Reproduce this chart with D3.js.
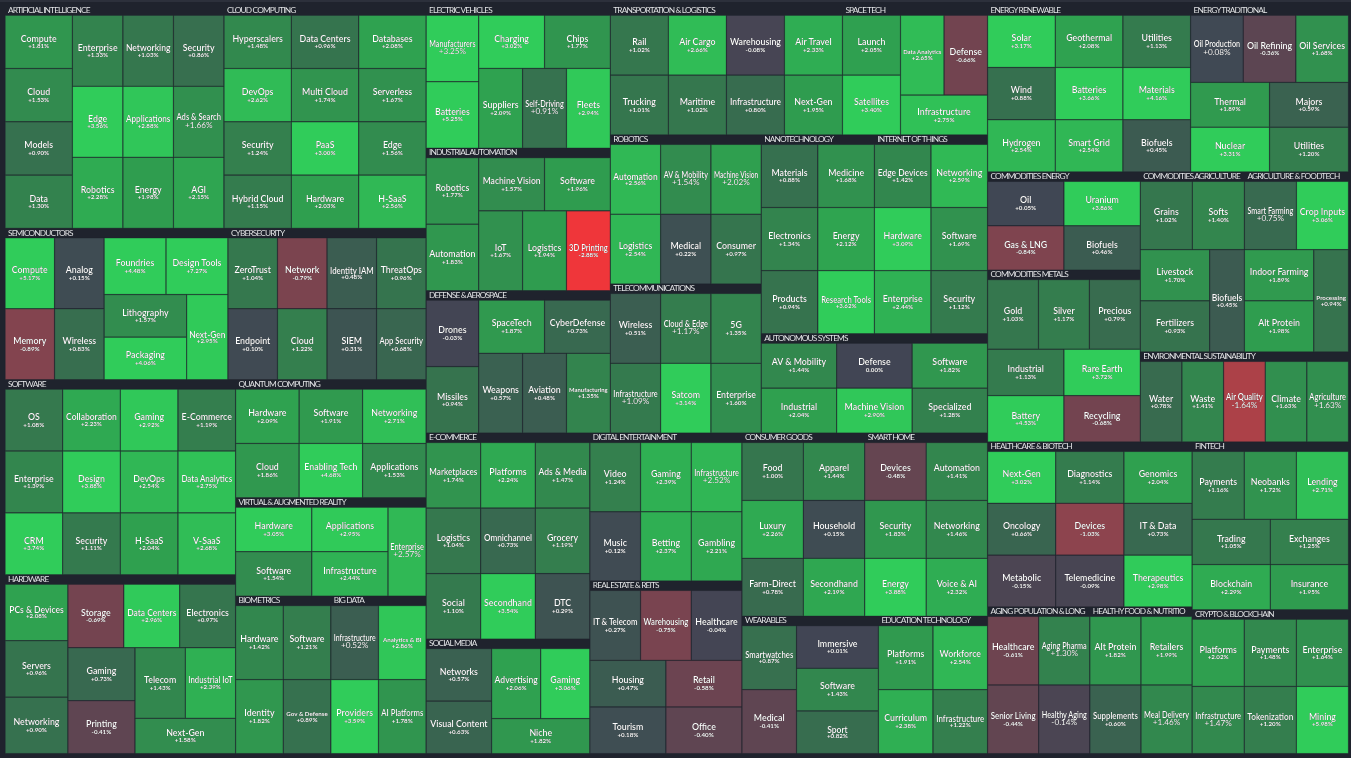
<!DOCTYPE html>
<html lang="en">
<head>
<meta charset="utf-8">
<title>Thematic market map</title>
<script src="https://cdn.jsdelivr.net/npm/d3@7"></script>
<style>
  html, body { margin: 0; padding: 0; background: #1f232d; overflow: hidden; }
  svg { display: block; filter: blur(0.45px); }
  text { font-family: Lato, "Open Sans", sans-serif; fill: #fff; }
  .labels { filter: drop-shadow(0.8px 0.8px 0.7px rgba(0,0,0,.75)); }
  .title { font-size: 8.3px; letter-spacing: -0.85px; fill: #e6e8ec; }
</style>
</head>
<body>
<div id="chart"></div>
<script>
// ---------- data: one pair of arrays per theme ----------
const aiNames = ["Compute","Cloud","Models","Data","Enterprise","Networking","Security","Edge","Applications","Ads & Search","Robotics","Energy","AGI"];
const aiChanges = [1.81,1.53,0.90,1.30,1.33,1.03,0.86,3.56,2.88,1.66,2.28,1.98,2.15];
const cloudNames = ["Hyperscalers","Data Centers","Databases","DevOps","Multi Cloud","Serverless","Security","PaaS","Edge","Hybrid Cloud","Hardware","H-SaaS"];
const cloudChanges = [1.48,0.96,2.08,2.62,1.74,1.67,1.24,3.00,1.56,1.15,2.03,2.56];
const semiNames = ["Compute","Analog","Memory","Wireless","Foundries","Design Tools","Lithography","Packaging","Next-Gen"];
const semiChanges = [5.17,0.15,-0.89,0.83,4.48,7.27,1.57,4.06,2.95];
const cyberNames = ["ZeroTrust","Network","Identity IAM","ThreatOps","Endpoint","Cloud","SIEM","App Security"];
const cyberChanges = [1.04,-0.79,0.48,0.96,0.10,1.22,0.31,0.68];
const softwareNames = ["OS","Collaboration","Gaming","E-Commerce","Enterprise","Design","DevOps","Data Analytics","CRM","Security","H-SaaS","V-SaaS"];
const softwareChanges = [1.08,2.23,2.92,1.19,1.39,3.88,2.54,2.75,3.74,1.11,2.04,2.68];
const hardwareNames = ["PCs & Devices","Servers","Networking","Storage","Data Centers","Electronics","Gaming","Printing","Telecom","Industrial IoT","Next-Gen"];
const hardwareChanges = [2.08,0.96,0.90,-0.69,2.96,0.97,0.73,-0.41,1.43,2.39,1.58];
const quantumNames = ["Hardware","Software","Networking","Cloud","Enabling Tech","Applications"];
const quantumChanges = [2.09,1.91,2.71,1.86,4.68,1.53];
const vrNames = ["Hardware","Applications","Software","Infrastructure","Enterprise"];
const vrChanges = [3.05,2.95,1.54,2.44,2.57];
const bioNames = ["Hardware","Software","Identity","Gov & Defense"];
const bioChanges = [1.42,1.21,1.82,0.89];
const bigDataNames = ["Infrastructure","Analytics & BI","Providers","AI Platforms"];
const bigDataChanges = [0.52,2.86,3.59,1.78];
const evNames = ["Manufacturers","Batteries","Charging","Chips","Suppliers","Self-Driving","Fleets"];
const evChanges = [3.25,5.25,3.02,1.77,2.09,0.91,2.94];
const indNames = ["Robotics","Automation","Machine Vision","Software","IoT","Logistics","3D Printing"];
const indChanges = [1.77,1.83,1.57,1.96,1.67,1.94,-2.88];
const defNames = ["Drones","Missiles","SpaceTech","CyberDefense","Weapons","Aviation","Manufacturing"];
const defChanges = [-0.03,0.94,1.87,0.73,0.57,0.48,1.35];
const transNames = ["Rail","Air Cargo","Warehousing","Air Travel","Trucking","Maritime","Infrastructure","Next-Gen"];
const transChanges = [1.02,2.66,-0.08,2.33,1.01,1.02,0.80,1.95];
const spaceNames = ["Launch","Satellites","Data Analytics","Defense","Infrastructure"];
const spaceChanges = [2.05,3.40,2.65,-0.66,2.75];
const robotNames = ["Automation","AV & Mobility","Machine Vision","Logistics","Medical","Consumer"];
const robotChanges = [2.56,1.54,2.02,2.54,0.22,0.97];
const telecomNames = ["Wireless","Cloud & Edge","5G","Infrastructure","Satcom","Enterprise"];
const telecomChanges = [0.51,1.17,1.35,1.09,3.14,1.60];
const nanoNames = ["Materials","Medicine","Electronics","Energy","Products","Research Tools"];
const nanoChanges = [0.88,1.68,1.34,2.12,0.94,3.62];
const iotNames = ["Edge Devices","Networking","Hardware","Software","Enterprise","Security"];
const iotChanges = [1.42,2.59,3.09,1.69,2.44,1.12];
const autoNames = ["AV & Mobility","Defense","Software","Industrial","Machine Vision","Specialized"];
const autoChanges = [1.44,0.00,1.82,2.04,2.90,1.28];
const ecomNames = ["Marketplaces","Platforms","Ads & Media","Logistics","Omnichannel","Grocery","Social","Secondhand","DTC"];
const ecomChanges = [1.74,2.24,1.47,1.04,0.73,1.19,1.10,3.54,0.29];
const socialNames = ["Networks","Visual Content","Advertising","Gaming","Niche"];
const socialChanges = [0.57,0.63,2.06,3.06,1.82];
const digitalNames = ["Video","Gaming","Infrastructure","Music","Betting","Gambling"];
const digitalChanges = [1.24,2.39,2.52,0.12,2.37,2.21];
const reitNames = ["IT & Telecom","Warehousing","Healthcare","Housing","Retail","Tourism","Office"];
const reitChanges = [0.27,-0.75,-0.04,0.47,-0.58,0.18,-0.40];
const consumerNames = ["Food","Apparel","Luxury","Household","Farm-Direct","Secondhand"];
const consumerChanges = [1.00,1.44,2.26,0.15,0.78,2.19];
const homeNames = ["Devices","Automation","Security","Networking","Energy","Voice & AI"];
const homeChanges = [-0.48,1.41,1.83,1.46,3.88,2.32];
const wearNames = ["Smartwatches","Medical","Immersive","Software","Sport"];
const wearChanges = [0.87,-0.41,0.01,1.43,0.82];
const eduNames = ["Platforms","Workforce","Curriculum","Infrastructure"];
const eduChanges = [1.91,2.54,2.38,1.22];
const renewNames = ["Solar","Geothermal","Utilities","Wind","Batteries","Materials","Hydrogen","Smart Grid","Biofuels"];
const renewChanges = [3.17,2.08,1.13,0.88,3.66,4.16,2.54,2.54,0.45];
const tradNames = ["Oil Production","Oil Refining","Oil Services","Thermal","Majors","Nuclear","Utilities"];
const tradChanges = [0.08,-0.36,1.68,1.89,0.59,3.31,1.20];
const comEnergyNames = ["Oil","Uranium","Gas & LNG","Biofuels"];
const comEnergyChanges = [0.05,3.86,-0.84,0.46];
const metalNames = ["Gold","Silver","Precious","Industrial","Rare Earth","Battery","Recycling"];
const metalChanges = [1.03,1.17,0.79,1.13,3.72,4.53,-0.68];
const comAgNames = ["Grains","Softs","Livestock","Fertilizers","Biofuels"];
const comAgChanges = [1.02,1.40,1.70,0.93,0.45];
const foodTechNames = ["Smart Farming","Crop Inputs","Indoor Farming","Alt Protein","Processing"];
const foodTechChanges = [0.75,3.06,1.89,1.98,0.94];
const envNames = ["Water","Waste","Air Quality","Climate","Agriculture"];
const envChanges = [0.78,1.41,-1.64,1.63,1.63];
const healthNames = ["Next-Gen","Diagnostics","Genomics","Oncology","Devices","IT & Data","Metabolic","Telemedicine","Therapeutics"];
const healthChanges = [3.02,1.14,2.04,0.66,-1.03,0.73,-0.15,-0.09,2.98];
const fintechNames = ["Payments","Neobanks","Lending","Trading","Exchanges","Blockchain","Insurance"];
const fintechChanges = [1.16,1.72,2.71,1.05,1.25,2.29,1.95];
const agingNames = ["Healthcare","Aging Pharma","Senior Living","Healthy Aging"];
const agingChanges = [-0.61,1.30,-0.44,-0.14];
const nutritionNames = ["Alt Protein","Retailers","Supplements","Meal Delivery"];
const nutritionChanges = [1.82,1.99,0.60,1.46];
const cryptoNames = ["Platforms","Payments","Enterprise","Infrastructure","Tokenization","Mining"];
const cryptoChanges = [2.02,1.48,1.64,1.47,1.20,5.98];

// every tile carries the same weight in this map
const tileWeight = 1;

// colour stops of the change scale
const changeStops = [-3,-2,-1,0,1,2,3];
const changeColors = ["#f63538","#bf4045","#8b444e","#414554","#35764e","#2f9e4f","#30cc5a"];

// ---------- nesting of the map ----------
const H = (...kids) => ({dir:"h", kids});
const V = (...kids) => ({dir:"v", kids});
const G23 = H(V(2), V(H(2), H(3)));      // 7 tile block
const G5 = H(V(2), V(H(2), 1));          // 5 tile block
const R2x2 = V(H(2), H(2));
const R3x2 = V(H(3), H(3));
const R3x3 = V(H(3), H(3), H(3));
const R2x3 = V(H(2), H(2), H(2));
const R322 = V(H(3), H(2), H(2));

const themes = {
  ai:{title:"ARTIFICIAL INTELLIGENCE",names:aiNames,changes:aiChanges,shape:H(V(4),R3x3)},
  cloud:{title:"CLOUD COMPUTING",names:cloudNames,changes:cloudChanges,shape:V(H(3),H(3),H(3),H(3))},
  semi:{title:"SEMICONDUCTORS",names:semiNames,changes:semiChanges,shape:H(R2x2,V(H(2),H(V(2),1)))},
  cyber:{title:"CYBERSECURITY",names:cyberNames,changes:cyberChanges,shape:V(H(4),H(4))},
  software:{title:"SOFTWARE",names:softwareNames,changes:softwareChanges,shape:V(H(4),H(4),H(4))},
  hardware:{title:"HARDWARE",names:hardwareNames,changes:hardwareChanges,shape:H(V(3),V(H(3),H(V(2),V(H(2),1))))},
  quantum:{title:"QUANTUM COMPUTING",names:quantumNames,changes:quantumChanges,shape:R3x2},
  vr:{title:"VIRTUAL & AUGMENTED REALITY",names:vrNames,changes:vrChanges,shape:H(R2x2,1)},
  bio:{title:"BIOMETRICS",names:bioNames,changes:bioChanges,shape:R2x2},
  bigData:{title:"BIG DATA",names:bigDataNames,changes:bigDataChanges,shape:R2x2},
  ev:{title:"ELECTRIC VEHICLES",names:evNames,changes:evChanges,shape:G23},
  ind:{title:"INDUSTRIAL AUTOMATION",names:indNames,changes:indChanges,shape:G23},
  def:{title:"DEFENSE & AEROSPACE",names:defNames,changes:defChanges,shape:G23},
  trans:{title:"TRANSPORTATION & LOGISTICS",names:transNames,changes:transChanges,shape:V(H(4),H(4))},
  space:{title:"SPACE TECH",names:spaceNames,changes:spaceChanges,shape:G5},
  robot:{title:"ROBOTICS",names:robotNames,changes:robotChanges,shape:R3x2},
  telecom:{title:"TELECOMMUNICATIONS",names:telecomNames,changes:telecomChanges,shape:R3x2},
  nano:{title:"NANOTECHNOLOGY",names:nanoNames,changes:nanoChanges,shape:R2x3},
  iot:{title:"INTERNET OF THINGS",names:iotNames,changes:iotChanges,shape:R2x3},
  auto:{title:"AUTONOMOUS SYSTEMS",names:autoNames,changes:autoChanges,shape:R3x2},
  ecom:{title:"E-COMMERCE",names:ecomNames,changes:ecomChanges,shape:R3x3},
  social:{title:"SOCIAL MEDIA",names:socialNames,changes:socialChanges,shape:G5},
  digital:{title:"DIGITAL ENTERTAINMENT",names:digitalNames,changes:digitalChanges,shape:R3x2},
  reit:{title:"REAL ESTATE & REITS",names:reitNames,changes:reitChanges,shape:R322},
  consumer:{title:"CONSUMER GOODS",names:consumerNames,changes:consumerChanges,shape:R2x3},
  home:{title:"SMART HOME",names:homeNames,changes:homeChanges,shape:R2x3},
  wear:{title:"WEARABLES",names:wearNames,changes:wearChanges,shape:H(V(2),V(3))},
  edu:{title:"EDUCATION TECHNOLOGY",names:eduNames,changes:eduChanges,shape:R2x2},
  renew:{title:"ENERGY RENEWABLE",names:renewNames,changes:renewChanges,shape:R3x3},
  trad:{title:"ENERGY TRADITIONAL",names:tradNames,changes:tradChanges,shape:R322},
  comEnergy:{title:"COMMODITIES ENERGY",names:comEnergyNames,changes:comEnergyChanges,shape:R2x2},
  metal:{title:"COMMODITIES METALS",names:metalNames,changes:metalChanges,shape:R322},
  comAg:{title:"COMMODITIES AGRICULTURE",names:comAgNames,changes:comAgChanges,shape:V(H(2),H(V(2),1))},
  foodTech:{title:"AGRICULTURE & FOODTECH",names:foodTechNames,changes:foodTechChanges,shape:V(H(2),H(V(2),1))},
  env:{title:"ENVIRONMENTAL SUSTAINABILITY",names:envNames,changes:envChanges,shape:H(5)},
  health:{title:"HEALTHCARE & BIOTECH",names:healthNames,changes:healthChanges,shape:R3x3},
  fintech:{title:"FINTECH",names:fintechNames,changes:fintechChanges,shape:R322},
  aging:{title:"AGING POPULATION & LONG",names:agingNames,changes:agingChanges,shape:R2x2},
  nutrition:{title:"HEALTHY FOOD & NUTRITIO",names:nutritionNames,changes:nutritionChanges,shape:R2x2},
  crypto:{title:"CRYPTO & BLOCKCHAIN",names:cryptoNames,changes:cryptoChanges,shape:R3x2}
};

const mapTree = H(
  V(H("ai","cloud"), H("semi","cyber"),
    H(V("software","hardware"), V("quantum","vr",H("bio","bigData")))),
  V(H(V("ev","ind","def"),
      V(H("trans","space"),
        H(V("robot","telecom"), V(H("nano","iot"),"auto")))),
    H(V("ecom","social"), V("digital","reit"),
      V(H("consumer","home"), H("wear","edu")))),
  V(H("renew","trad"),
    H(V("comEnergy","metal"), V(H("comAg","foodTech"),"env")),
    H(V("health",H("aging","nutrition")), V("fintech","crypto")))
);

// label treatments seen in the map
const bigPercent = new Set(["ai|Ads & Search","ev|Manufacturers","ev|Self-Driving","robot|AV & Mobility","robot|Machine Vision",
  "telecom|Cloud & Edge","telecom|Infrastructure","bigData|Infrastructure","vr|Enterprise","digital|Infrastructure","trad|Oil Production",
  "foodTech|Smart Farming","env|Air Quality","env|Agriculture","aging|Aging Pharma","aging|Healthy Aging","nutrition|Meal Delivery","crypto|Infrastructure"]);
const tinyName = new Set(["space|Data Analytics","def|Manufacturing","bigData|Analytics & BI","bio|Gov & Defense","foodTech|Processing"]);
const tightLabel = new Set(["software|Collaboration","software|Data Analytics","semi|Next-Gen","cyber|Identity IAM","hardware|Industrial IoT",
  "hardware|PCs & Devices","wear|Smartwatches","robot|Automation","nano|Research Tools","wear|Sport","edu|Infrastructure"]);

// ---------- hierarchy ----------
function buildShape(spec, key, theme, state) {
  const children = spec.kids.flatMap(k => {
    if (typeof k === "number") {
      return d3.range(k).map(() => {
        const i = state.i++;
        return {key, name: theme.names[i], change: theme.changes[i], weight: tileWeight};
      });
    }
    return [buildShape(k, key, theme, state)];
  });
  return {dir: spec.dir, children};
}
function buildTree(spec) {
  return {dir: spec.dir, children: spec.kids.map(k => {
    if (typeof k === "string") {
      const node = buildShape(themes[k].shape, k, themes[k], {i: 0});
      node.title = themes[k].title;
      return node;
    }
    return buildTree(k);
  })};
}

const width = 1351, height = 758;
const root = d3.hierarchy(buildTree(mapTree)).sum(d => d.weight || 0);

d3.treemap()
  .size([width, height])
  .tile((node, x0, y0, x1, y1) =>
    (node.data.dir === "h" ? d3.treemapDice : d3.treemapSlice)(node, x0, y0, x1, y1))
  .paddingTop(d => d.depth === 0 ? 5.8 : (d.data.title ? 9.4 : 0))
  .paddingLeft(d => d.depth === 0 ? 5 : 0)
  .paddingRight(d => d.depth === 0 ? 2.5 : 0)
  .paddingBottom(d => d.depth === 0 ? 4.4 : 0)(root);

const color = d3.scaleLinear().domain(changeStops).range(changeColors).clamp(true);
const pct = v => v === 0 ? "0.00%" : d3.format("+.2f")(v).replace("\u2212", "-") + "%";

const svg = d3.select("#chart").append("svg").attr("width", width).attr("height", height);
svg.append("rect").attr("width", width).attr("height", 2).attr("fill", "#2c303b");

const leaves = root.leaves();
svg.append("g").selectAll("rect").data(leaves).join("rect")
  .attr("x", d => d.x0 + 0.25)
  .attr("y", d => d.y0 + 0.25)
  .attr("width", d => d.x1 - d.x0 - 0.5)
  .attr("height", d => d.y1 - d.y0 - 0.5)
  .attr("fill", d => color(d.data.change))
  .attr("stroke", "#1f232d").attr("stroke-opacity", 0.45).attr("stroke-width", 0.8);

const labels = svg.append("g").attr("class", "labels");

labels.selectAll("text.title")
  .data(root.descendants().filter(d => d.data.title))
  .join("text").attr("class", "title")
  .attr("x", d => d.x0 + 3)
  .attr("y", d => d.y0 + 7.2)
  .text(d => d.data.title);

const tile = labels.selectAll("g.tile").data(leaves).join("g").attr("class", "tile")
  .attr("transform", d => `translate(${(d.x0 + d.x1) / 2},${(d.y0 + d.y1) / 2})`);

const kind = d => {
  const k = d.data.key + "|" + d.data.name;
  return bigPercent.has(k) ? "big" : tinyName.has(k) ? "tiny" : tightLabel.has(k) ? "tight" : "std";
};

tile.append("text").attr("class", "name")
  .attr("text-anchor", "middle")
  .attr("font-weight", d => kind(d) === "tiny" ? 700 : 600)
  .attr("font-size", d => ({big: 8.6, tiny: 6.2, tight: 8.5, std: 8.8}[kind(d)]))
  .attr("y", d => ({big: -1.4, tiny: -1, tight: 0.4, std: -0.2}[kind(d)]))
  .text(d => d.data.name)
  .each(function(d) {
    const room = (d.x1 - d.x0) * 0.88, len = this.getComputedTextLength();
    if (len > room) { d3.select(this).attr("textLength", room).attr("lengthAdjust", "spacingAndGlyphs"); }
  });

tile.append("text").attr("class", "pct")
  .attr("text-anchor", "middle")
  .attr("font-weight", d => kind(d) === "big" ? 400 : 700)
  .attr("font-size", d => kind(d) === "big" ? 8.2 : 6.2)
  .attr("y", d => ({big: 5.8, tiny: 5.2, tight: 5.8, std: 6.5}[kind(d)]))
  .text(d => pct(d.data.change));
</script>
</body>
</html>
